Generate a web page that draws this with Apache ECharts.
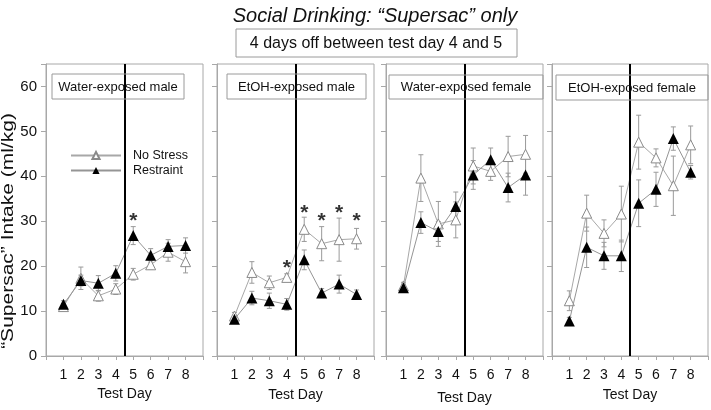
<!DOCTYPE html>
<html>
<head>
<meta charset="utf-8">
<script src="https://cdn.jsdelivr.net/npm/echarts@6/dist/echarts.min.js"></script>
<style>html,body{margin:0;padding:0;background:#fff}#c{width:711px;height:410px}</style>
</head>
<body>
<div id="c"></div>
<script>
// ---- data ----
const days = [1, 2, 3, 4, 5, 6, 7, 8];
const panelTitles = ['Water-exposed male', 'EtOH-exposed male', 'Water-exposed female', 'EtOH-exposed female'];
const noStress = [
  [11.0, 17.3, 13.4, 14.9, 18.2, 20.3, 23.1, 21.0],
  [8.9, 18.6, 16.3, 17.5, 28.2, 25.0, 25.9, 26.1],
  [15.6, 39.6, 29.4, 30.3, 42.3, 41.1, 44.4, 44.9],
  [12.3, 31.8, 27.3, 31.6, 47.6, 44.1, 37.9, 47.0]
];
const noStressErr = [
  [0.7, 2.5, 1.2, 1.2, 1.3, 1.0, 2.0, 2.5],
  [0.8, 2.4, 1.5, 0.8, 2.7, 3.8, 4.8, 2.3],
  [0.8, 5.2, 5.0, 4.0, 4.0, 2.0, 4.5, 4.2],
  [2.2, 4.0, 3.0, 6.2, 6.0, 2.0, 6.6, 4.2]
];
const restraint = [
  [11.5, 16.8, 16.2, 18.4, 26.8, 22.4, 24.4, 24.6],
  [8.2, 12.9, 12.3, 11.5, 21.4, 14.0, 16.0, 13.7],
  [15.2, 29.7, 27.7, 33.3, 40.3, 43.7, 37.5, 40.3],
  [7.8, 24.2, 22.3, 22.3, 34.0, 37.1, 48.4, 40.9]
];
const restraintErr = [
  [0.8, 1.2, 1.7, 1.7, 2.0, 1.5, 1.5, 1.7],
  [0.6, 1.5, 1.7, 1.3, 2.2, 1.0, 2.0, 1.0],
  [0.8, 2.4, 2.2, 3.2, 3.2, 2.6, 3.2, 4.5],
  [0.8, 4.5, 3.0, 3.5, 5.2, 3.8, 2.6, 1.5]
];
const starDays = [[5], [4, 5, 6, 7, 8], [], []];
const starValues = [[30.0], [19.5, 31.8, 30.0, 31.8, 30.0], [], []];
const breakDay = 4.5;
const seriesNames = ['No Stress', 'Restraint'];
const titleText = 'Social Drinking: \u201cSupersac\u201d only';
const subtitleText = '4 days off between test day 4 and 5';
const yAxisTitle = '\u201cSupersac\u201d Intake (ml/kg)';
const xAxisTitle = 'Test Day';

// ---- layout ----
const gridLefts = [46, 217, 386, 552];
const gridWidth = 157;
const gridTop = 64, gridHeight = 292;
const nameGaps = [30, 32, 35, 32];
const boxes = [[52, 74, 132, 25], [227, 74, 139, 25], [389, 75, 154, 24], [556, 75, 152, 25]];
const FONT = '"Liberation Sans", Arial, sans-serif';
const frame = '#a8a8a8';

const grids = [], xAxes = [], yAxes = [], series = [], graphics = [];

function errRender(color) {
  return function (params, api) {
    const x = api.value(0);
    const lo = api.coord([x, api.value(1)]);
    const hi = api.coord([x, api.value(2)]);
    const w = 2.5;
    const st = { stroke: color, lineWidth: 1 };
    return {
      type: 'group',
      children: [
        { type: 'line', shape: { x1: lo[0], y1: lo[1], x2: hi[0], y2: hi[1] }, style: st },
        { type: 'line', shape: { x1: lo[0] - w, y1: lo[1], x2: lo[0] + w, y2: lo[1] }, style: st },
        { type: 'line', shape: { x1: hi[0] - w, y1: hi[1], x2: hi[0] + w, y2: hi[1] }, style: st }
      ]
    };
  };
}

for (let p = 0; p < 4; p++) {
  grids.push({ left: gridLefts[p], top: gridTop, width: gridWidth, height: gridHeight,
    show: true, borderColor: frame, borderWidth: 1, backgroundColor: 'transparent' });
  xAxes.push({
    type: 'value', gridIndex: p, min: 0, max: 9, interval: 1,
    axisLine: { lineStyle: { color: frame } },
    axisTick: { show: true, length: 4, lineStyle: { color: frame } },
    splitLine: { show: false },
    axisLabel: { fontFamily: FONT, fontSize: 14, color: '#111', margin: 12,
      formatter: v => (v >= 1 && v <= 8) ? String(v) : '' },
    name: xAxisTitle, nameLocation: 'middle', nameGap: nameGaps[p],
    nameTextStyle: { fontFamily: FONT, fontSize: 14, color: '#111' }
  });
  yAxes.push({
    type: 'value', gridIndex: p, min: 0, max: 65, interval: 10,
    axisLine: { show: true, lineStyle: { color: frame } },
    axisTick: { show: true, length: 5, lineStyle: { color: frame } },
    splitLine: { show: false },
    axisLabel: { show: p === 0, fontFamily: FONT, fontSize: 15, color: '#111', margin: 9,
      formatter: v => (v % 10 === 0) ? String(v) : '' }
  });

  const errNS = days.map((d, i) => [d, noStress[p][i] - noStressErr[p][i], noStress[p][i] + noStressErr[p][i]]);
  const errR = days.map((d, i) => [d, restraint[p][i] - restraintErr[p][i], restraint[p][i] + restraintErr[p][i]]);
  series.push({ type: 'custom', xAxisIndex: p, yAxisIndex: p, renderItem: errRender('#9a9a9a'), data: errNS, z: 1, silent: true });
  series.push({ type: 'custom', xAxisIndex: p, yAxisIndex: p, renderItem: errRender('#9a9a9a'), data: errR, z: 1, silent: true });

  series.push({
    name: seriesNames[0], type: 'line', xAxisIndex: p, yAxisIndex: p,
    data: days.map((d, i) => [d, noStress[p][i]]),
    symbol: 'triangle', symbolSize: 10,
    lineStyle: { color: '#a8a8a8', width: 1 },
    itemStyle: { color: '#fff', borderColor: '#8a8a8a', borderWidth: 1 },
    z: 3, animation: false,
    markLine: {
      silent: true, symbol: 'none', animation: false,
      label: { show: false },
      lineStyle: { color: '#000', width: 2, type: 'solid' },
      data: [{ xAxis: breakDay }]
    }
  });
  series.push({
    name: seriesNames[1], type: 'line', xAxisIndex: p, yAxisIndex: p,
    data: days.map((d, i) => [d, restraint[p][i]]),
    symbol: 'triangle', symbolSize: 11,
    lineStyle: { color: '#959595', width: 1 },
    itemStyle: { color: '#000', borderColor: '#000', borderWidth: 0 },
    z: 4, animation: false
  });
  if (starDays[p].length) {
    series.push({
      type: 'scatter', xAxisIndex: p, yAxisIndex: p,
      data: starDays[p].map((d, i) => [d, starValues[p][i]]),
      symbolSize: 1, itemStyle: { color: 'transparent' },
      label: { show: true, position: 'inside', formatter: '*', fontFamily: FONT,
        fontSize: 21, fontWeight: 'bold', color: '#000' },
      z: 5, silent: true, animation: false
    });
  }

  const b = boxes[p];
  graphics.push({ type: 'rect', shape: { x: b[0], y: b[1], width: b[2], height: b[3] },
    style: { fill: 'none', stroke: '#9a9a9a', lineWidth: 1 }, z: 100 });
  graphics.push({ type: 'text', x: b[0] + b[2] / 2, y: b[1] + b[3] / 2 + 0.5,
    style: { text: panelTitles[p], fontFamily: FONT, fontSize: 13, fill: '#111',
      textAlign: 'center', textVerticalAlign: 'middle' }, z: 101 });
}

graphics.push({ type: 'text', x: 375, y: 16,
  style: { text: titleText, fontFamily: FONT, fontSize: 20, fontStyle: 'italic', fill: '#111',
    textAlign: 'center', textVerticalAlign: 'middle' } });
graphics.push({ type: 'rect', shape: { x: 236, y: 29, width: 281, height: 28 },
  style: { fill: 'none', stroke: '#9a9a9a', lineWidth: 1 } });
graphics.push({ type: 'text', x: 376, y: 43.5,
  style: { text: subtitleText, fontFamily: FONT, fontSize: 16, fill: '#111',
    textAlign: 'center', textVerticalAlign: 'middle' } });
graphics.push({ type: 'text', x: 9, y: 231, rotation: Math.PI / 2, scaleX: 1, scaleY: 0.76,
  style: { text: yAxisTitle, fontFamily: FONT, fontSize: 21, fill: '#111',
    textAlign: 'center', textVerticalAlign: 'middle' } });

const chart = echarts.init(document.getElementById('c'), null, { renderer: 'canvas' });
chart.setOption({
  animation: false,
  backgroundColor: '#fff',
  grid: grids, xAxis: xAxes, yAxis: yAxes, series: series,
  legend: {
    data: seriesNames, orient: 'vertical', left: 70, top: 149, padding: 0,
    itemWidth: 50, itemHeight: 9, itemGap: 2,
    textStyle: { fontFamily: FONT, fontSize: 12.5, color: '#111', padding: [0, 0, 0, 7] },
    selectedMode: false
  },
  graphic: graphics
});
</script>
</body>
</html>
